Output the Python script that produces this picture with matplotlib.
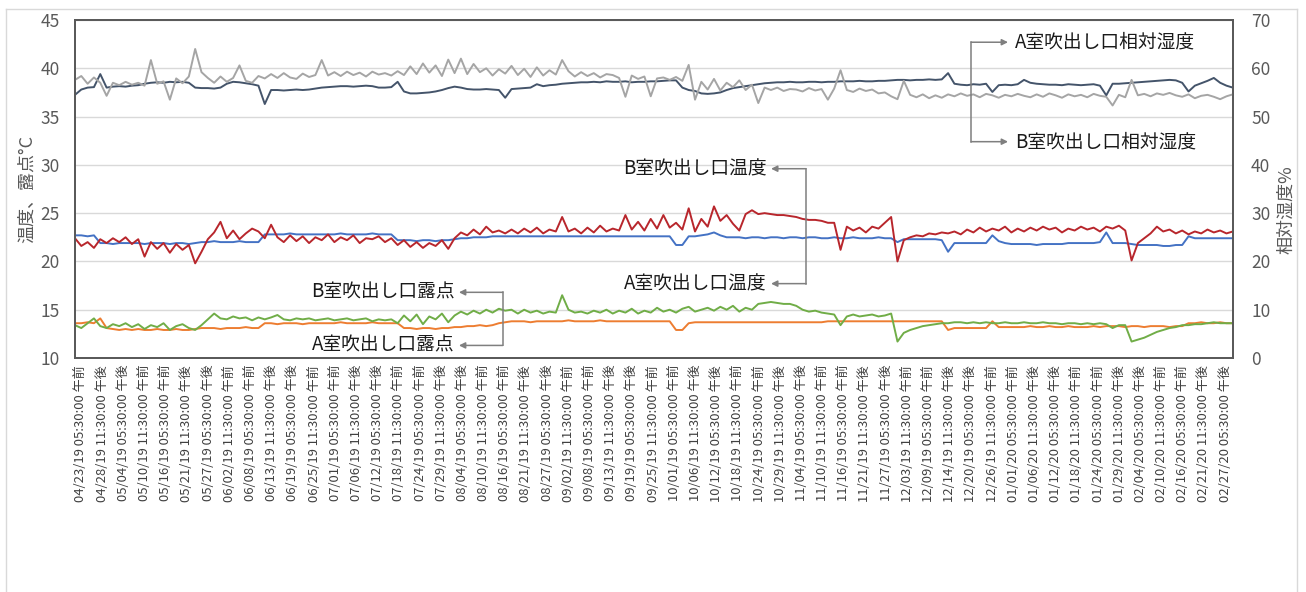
import numpy as np
import pandas as pd
import matplotlib
matplotlib.use("Agg")
import matplotlib.pyplot as plt
from matplotlib.lines import Line2D

plt.rcParams['font.family'] = ['Noto Sans CJK JP', 'DejaVu Sans']

# sample times, days since 2019-04-23 00:00
days = np.linspace(-1.4, 312.8, 184)

# A室 / B室 吹出し口 相対湿度 [%]
a_rh = [54.5, 55.6, 56.0, 56.1, 58.8, 56.0, 56.2, 56.3, 56.2, 56.4,
        56.5, 56.8, 57.0, 57.1, 57.0, 57.2, 57.1, 57.2, 57.0, 56.0,
        55.9, 55.9, 55.8, 56.0, 56.8, 57.2, 57.1, 56.9, 56.7, 56.4,
        52.6, 55.5, 55.5, 55.4, 55.5, 55.6, 55.5, 55.6, 55.8, 56.0,
        56.1, 56.2, 56.3, 56.3, 56.2, 56.3, 56.4, 56.3, 56.0, 56.0,
        56.1, 57.2, 55.2, 54.8, 54.8, 54.9, 55.0, 55.2, 55.5, 55.9,
        56.2, 56.0, 55.7, 55.6, 55.6, 55.7, 55.6, 55.5, 53.9, 55.7,
        55.8, 55.9, 56.0, 56.7, 56.3, 56.5, 56.6, 56.8, 56.9, 57.0,
        57.1, 57.1, 57.2, 57.1, 57.3, 57.2, 57.2, 57.3, 57.1, 57.2,
        57.2, 57.3, 57.3, 57.4, 57.5, 57.5, 56.0, 55.5, 55.3, 54.8,
        54.7, 54.8, 55.0, 55.5, 55.9, 56.1, 56.3, 56.5, 56.7, 56.9,
        57.0, 57.1, 57.1, 57.2, 57.1, 57.1, 57.2, 57.2, 57.1, 57.2,
        57.2, 57.3, 57.3, 57.3, 57.4, 57.3, 57.3, 57.4, 57.4, 57.5,
        57.6, 57.6, 57.5, 57.6, 57.6, 57.7, 57.6, 57.7, 59.0, 56.8,
        56.6, 56.5, 56.7, 56.6, 56.8, 55.1, 56.5, 56.6, 56.5, 56.7,
        57.6, 57.0, 56.8, 56.7, 56.6, 56.6, 56.5, 56.7, 56.6, 56.5,
        56.6, 56.7, 56.4, 54.4, 56.8, 56.8, 56.9, 57.0, 57.1, 57.2,
        57.3, 57.4, 57.5, 57.6, 57.5, 57.0, 55.2, 56.4, 56.9, 57.4,
        58.0, 57.0, 56.4, 56.0]

b_rh = [57.6, 58.4, 56.8, 58.1, 57.0, 54.3, 57.0, 56.5, 57.2, 56.6,
        57.0, 56.4, 61.7, 56.8, 57.3, 53.5, 57.9, 56.9, 58.3, 64.0,
        59.2, 58.0, 57.0, 58.3, 57.2, 58.0, 60.6, 57.4, 57.0, 58.4,
        57.9, 58.8, 58.0, 59.0, 58.1, 57.8, 58.9, 58.2, 58.6, 61.7,
        58.5, 59.2, 58.4, 59.3, 58.6, 59.1, 58.3, 59.3, 58.7, 59.0,
        58.5, 59.4, 58.6, 60.4, 58.8, 61.0, 59.1, 60.6, 58.4, 61.8,
        59.0, 62.0, 58.8, 60.9, 59.2, 60.0, 58.5, 59.8, 58.9, 60.5,
        58.6, 59.9, 58.2, 60.2, 58.5, 59.6, 58.7, 61.7, 59.4, 58.3,
        59.2, 58.4, 59.0, 58.1, 58.8, 58.6, 58.0, 54.1, 58.5, 57.8,
        58.3, 54.2, 57.9, 58.1, 57.6, 58.2, 57.4, 60.7, 53.5, 57.2,
        55.6, 57.8, 55.4, 57.0, 56.1, 57.5, 55.5, 56.6, 52.8, 56.0,
        55.5, 56.0, 55.3, 55.7, 55.6, 55.2, 55.9, 55.4, 55.7, 53.5,
        55.8, 59.6, 55.5, 55.1, 55.8, 55.3, 55.6, 54.8, 55.0, 54.2,
        53.6, 57.4, 54.5, 54.0, 54.6, 53.8, 54.4, 53.9, 54.6, 54.2,
        54.8, 54.3, 54.6, 54.0, 54.7, 54.4, 53.9, 54.5, 54.2, 54.7,
        54.3, 54.0, 54.6, 54.1, 54.8, 54.4, 53.9, 54.6, 54.2, 54.5,
        54.0, 54.7, 54.3, 54.1, 52.3, 54.5, 54.0, 57.6, 54.4, 54.7,
        54.2, 54.8, 54.5, 54.9, 54.4, 54.1, 54.6, 53.8, 54.3, 54.5,
        54.1, 53.6, 54.2, 54.6]

# 吹出し口温度 [°C]
a_temp = [22.7, 22.7, 22.6, 22.7, 21.9, 21.9, 21.8, 21.9, 21.9, 21.9,
          21.9, 21.8, 21.9, 21.9, 21.9, 21.8, 21.9, 21.9, 21.8, 21.9,
          22.0, 22.0, 22.1, 22.0, 22.0, 22.0, 22.1, 22.0, 22.0, 22.0,
          22.8, 22.8, 22.8, 22.8, 22.9, 22.8, 22.8, 22.8, 22.8, 22.8,
          22.8, 22.8, 22.9, 22.8, 22.8, 22.8, 22.8, 22.9, 22.8, 22.8,
          22.8, 22.2, 22.2, 22.2, 22.1, 22.2, 22.2, 22.1, 22.2, 22.2,
          22.3, 22.4, 22.4, 22.5, 22.5, 22.5, 22.6, 22.6, 22.6, 22.6,
          22.6, 22.6, 22.6, 22.6, 22.6, 22.6, 22.6, 22.6, 22.6, 22.6,
          22.6, 22.6, 22.6, 22.6, 22.6, 22.6, 22.6, 22.6, 22.6, 22.6,
          22.6, 22.6, 22.6, 22.6, 22.6, 21.7, 21.7, 22.6, 22.6, 22.7,
          22.8, 23.0, 22.7, 22.5, 22.5, 22.5, 22.4, 22.5, 22.5, 22.4,
          22.5, 22.5, 22.4, 22.5, 22.5, 22.4, 22.5, 22.5, 22.4, 22.4,
          22.5, 22.4, 22.4, 22.5, 22.4, 22.4, 22.4, 22.5, 22.4, 22.4,
          22.0, 22.3, 22.3, 22.3, 22.3, 22.3, 22.3, 22.2, 21.0, 21.9,
          21.9, 21.9, 21.9, 21.9, 21.9, 22.7, 22.1, 21.9, 21.8, 21.8,
          21.8, 21.8, 21.7, 21.8, 21.8, 21.8, 21.8, 21.9, 21.9, 21.9,
          21.9, 21.9, 22.0, 23.0, 21.9, 21.9, 21.9, 21.8, 21.7, 21.7,
          21.7, 21.7, 21.6, 21.6, 21.7, 21.7, 22.6, 22.4, 22.4, 22.4,
          22.4, 22.4, 22.4, 22.4]

b_temp = [22.4, 21.6, 22.0, 21.4, 22.3, 21.9, 22.4, 22.0, 22.5, 21.8,
          22.3, 20.5, 22.0, 21.3, 21.9, 20.9, 21.8, 21.2, 21.7, 19.8,
          21.0, 22.3, 23.0, 24.1, 22.4, 23.2, 22.3, 22.9, 23.4, 23.1,
          22.4, 23.8, 22.5, 22.0, 22.7, 22.1, 22.6, 21.9, 22.5, 22.2,
          22.8, 22.0, 22.5, 22.2, 22.7, 21.9, 22.4, 22.3, 22.6, 22.0,
          22.4, 21.7, 22.2, 21.5, 22.0, 21.4, 21.9, 21.6, 22.2, 21.3,
          22.4, 23.0, 22.7, 23.3, 22.8, 23.6, 23.0, 23.2, 22.9, 23.3,
          22.9, 23.4, 23.0, 23.5, 22.9, 23.3, 23.1, 24.6, 23.1, 23.4,
          22.9, 23.5, 23.0, 23.7, 23.1, 23.4, 23.2, 24.8, 23.3, 24.1,
          23.2, 24.4, 23.4, 24.8, 23.5, 24.0, 23.3, 25.5, 23.1, 24.4,
          23.6, 25.7, 24.2, 24.8, 23.9, 23.2, 24.9, 25.3, 24.9, 25.0,
          24.9, 24.8, 24.8, 24.7, 24.6, 24.4, 24.3, 24.3, 24.2, 24.0,
          24.0, 21.2, 23.6, 23.2, 23.5, 23.0, 23.6, 23.4, 24.0, 24.6,
          20.0, 22.2, 22.5, 22.7, 22.6, 22.9, 22.8, 23.0, 22.9, 23.1,
          22.8, 23.3, 23.0, 23.5, 23.1, 23.4, 23.2, 23.6, 23.0, 23.4,
          23.1, 23.5, 23.2, 23.6, 23.3, 23.5, 23.0, 23.4, 23.2, 23.6,
          23.3, 23.5, 23.1, 23.6, 23.4, 23.7, 23.2, 20.1, 21.9, 22.4,
          22.9, 23.6, 23.1, 23.3, 22.9, 23.2, 22.8, 23.1, 22.9, 23.3,
          23.0, 23.2, 22.9, 23.1]

# 吹出し口露点 [°C]
a_dew = [13.6, 13.6, 13.7, 13.6, 14.1, 13.1, 13.0, 12.9, 13.0, 12.9,
         13.0, 12.9, 12.9, 13.0, 12.9, 12.9, 13.0, 12.9, 12.9, 13.0,
         13.1, 13.1, 13.1, 13.0, 13.1, 13.1, 13.1, 13.2, 13.1, 13.1,
         13.6, 13.6, 13.5, 13.6, 13.6, 13.6, 13.5, 13.6, 13.6, 13.6,
         13.6, 13.6, 13.7, 13.6, 13.6, 13.6, 13.6, 13.7, 13.6, 13.6,
         13.6, 13.6, 13.1, 13.1, 13.0, 13.1, 13.1, 13.0, 13.1, 13.1,
         13.2, 13.2, 13.3, 13.3, 13.4, 13.3, 13.4, 13.6, 13.7, 13.8,
         13.8, 13.8, 13.7, 13.8, 13.8, 13.8, 13.8, 13.8, 13.9, 13.8,
         13.8, 13.8, 13.8, 13.9, 13.8, 13.8, 13.8, 13.8, 13.8, 13.8,
         13.8, 13.8, 13.8, 13.8, 13.8, 12.9, 12.9, 13.6, 13.7, 13.7,
         13.7, 13.7, 13.7, 13.7, 13.7, 13.7, 13.7, 13.7, 13.7, 13.7,
         13.7, 13.7, 13.7, 13.7, 13.7, 13.7, 13.7, 13.7, 13.7, 13.8,
         13.8, 13.8, 13.8, 13.8, 13.8, 13.8, 13.8, 13.8, 13.8, 13.8,
         13.8, 13.8, 13.8, 13.8, 13.8, 13.8, 13.8, 13.8, 12.9, 13.1,
         13.1, 13.1, 13.1, 13.1, 13.1, 13.8, 13.2, 13.2, 13.2, 13.2,
         13.2, 13.3, 13.2, 13.2, 13.3, 13.2, 13.2, 13.3, 13.2, 13.2,
         13.2, 13.3, 13.2, 13.3, 13.3, 13.3, 13.2, 13.3, 13.3, 13.2,
         13.3, 13.3, 13.3, 13.2, 13.3, 13.3, 13.6, 13.6, 13.7, 13.6,
         13.6, 13.7, 13.6, 13.6]

b_dew = [13.4, 13.1, 13.6, 14.1, 13.3, 13.1, 13.5, 13.3, 13.6, 13.2,
         13.5, 13.0, 13.4, 13.2, 13.6, 12.9, 13.3, 13.5, 13.1, 12.9,
         13.4, 14.0, 14.6, 14.1, 14.0, 14.3, 14.1, 14.2, 13.9, 14.2,
         14.0, 14.2, 14.45, 14.0, 13.9, 14.1, 14.0, 14.1, 13.9, 14.0,
         14.1, 13.9, 14.0, 14.1, 13.9, 14.0, 14.1, 13.8, 14.0, 13.9,
         14.0, 13.6, 14.4, 13.8, 14.5, 13.5, 14.3, 14.0, 14.6, 13.7,
         14.4, 14.8, 14.5, 14.9, 14.6, 15.0, 14.7, 15.1, 14.9, 15.0,
         14.6, 15.0, 14.7, 14.9, 14.6, 14.8, 14.7, 16.5, 15.0, 14.7,
         14.8, 14.6, 14.9, 14.7, 15.0, 14.6, 14.9, 14.7, 15.1, 14.6,
         14.9, 14.7, 15.2, 14.8, 15.0, 14.7, 15.1, 15.3, 14.8, 15.0,
         15.2, 14.9, 15.3, 15.0, 15.4, 14.8, 15.2, 15.0, 15.6, 15.7,
         15.8, 15.7, 15.6, 15.6, 15.4, 15.0, 14.8, 14.9, 14.7, 14.6,
         14.5, 13.4, 14.3, 14.5, 14.3, 14.4, 14.5, 14.3, 14.4, 14.6,
         11.7, 12.6, 12.9, 13.1, 13.3, 13.4, 13.5, 13.6, 13.6, 13.7,
         13.7, 13.6, 13.7, 13.6, 13.7, 13.6, 13.6, 13.7, 13.6, 13.6,
         13.7, 13.6, 13.6, 13.7, 13.6, 13.6, 13.5, 13.6, 13.6, 13.5,
         13.6, 13.5, 13.6, 13.5, 13.1, 13.4, 13.4, 11.7, 11.9, 12.1,
         12.4, 12.7, 12.9, 13.1, 13.2, 13.4, 13.4, 13.5, 13.5, 13.6,
         13.7, 13.6, 13.6, 13.6]

# category labels every 138 hours, as the logger exported them
tick_times = pd.date_range('2019-04-23 05:30', periods=55, freq='138h')
tick_pos = (tick_times - pd.Timestamp('2019-04-23')) / pd.Timedelta(days=1)
tick_labels = [f"{t:%m/%d/%y %I:%M:%S} {'午前' if t.hour < 12 else '午後'}"
               for t in tick_times]

fig = plt.figure(figsize=(13.06, 5.92), dpi=100)
ax = fig.add_axes([0.0574, 0.3953, 0.8867, 0.5709])
ax2 = ax.twinx()

ax.plot(days, a_temp, color='#4472c4', lw=1.4)
ax.plot(days, b_temp, color='#b8262c', lw=1.4)
ax.plot(days, a_dew, color='#ed7d31', lw=1.4)
ax.plot(days, b_dew, color='#70ad47', lw=1.4)
ax2.plot(days, a_rh, color='#44546a', lw=1.4)
ax2.plot(days, b_rh, color='#a5a5a5', lw=1.4)

ax.set_xlim(-1.4, 312.85)
ax.set_ylim(10, 45)
ax2.set_ylim(0, 70)
ax.set_yticks(range(10, 46, 5))
ax2.set_yticks(range(0, 71, 10))
ax.set_xticks(tick_pos)
ax.set_xticklabels(tick_labels, rotation=90, fontsize=9.4, color='#404040')
ax.tick_params(axis='x', length=0, pad=5)
ax.tick_params(axis='y', length=0, pad=11, labelsize=12.5, labelcolor='#595959')
ax2.tick_params(axis='y', length=0, pad=13, labelsize=12.5, labelcolor='#595959')

ax.grid(axis='y', color='#d9d9d9', lw=1)
ax.set_axisbelow(True)
for a in (ax, ax2):
    for s in a.spines.values():
        s.set_color('#595959')
        s.set_linewidth(1.3)

ax.set_ylabel('温度、露点°C', fontsize=13, color='#595959')
ax.yaxis.set_label_coords(-0.034, 0.5)
ax2.set_ylabel('相対湿度%', fontsize=13, color='#595959', rotation=90)
ax2.yaxis.set_label_coords(1.038, 0.44)

# bracket callouts naming each pair of series (left-axis coordinates)
line_kw = dict(color='#7f7f7f', lw=1.1)
arrow_kw = dict(arrowstyle='-|>', color='#7f7f7f', lw=1.1, mutation_scale=9,
                shrinkA=0, shrinkB=0)


def callout(x_bar, y_top, y_bot, x_tip, x_text, top_text, bot_text, side):
    ax2.plot([x_bar, x_bar], [y_top, y_bot], transform=ax.transData,
             clip_on=False, **line_kw)
    ha = 'left' if side == 'right' else 'right'
    for y, s in ((y_top, top_text), (y_bot, bot_text)):
        ax2.annotate('', xy=(x_tip, y), xytext=(x_bar, y),
                     xycoords=ax.transData, textcoords=ax.transData,
                     arrowprops=arrow_kw)
        ax2.text(x_text, y, s, transform=ax.transData, ha=ha, va='center',
                 fontsize=13.5, color='#1a1a1a')


callout(241.8, 42.7, 32.4, 251.8, 253.7,
        'A室吹出し口相対湿度', 'B室吹出し口相対湿度', 'right')
callout(197.0, 29.6, 17.7, 187.5, 186.4,
        'B室吹出し口温度', 'A室吹出し口温度', 'left')
callout(114.7, 16.8, 11.3, 102.8, 101.7,
        'B室吹出し口露点', 'A室吹出し口露点', 'left')

# thin frame around the whole chart area
for xs, ys in (([6 / 1306, 1297 / 1306], [1 - 9 / 592] * 2),
               ([6 / 1306] * 2, [0, 1 - 9 / 592]),
               ([1297 / 1306] * 2, [0, 1 - 9 / 592])):
    fig.add_artist(Line2D(xs, ys, transform=fig.transFigure,
                          color='#d9d9d9', lw=1))

fig.savefig('out.png', dpi=100)
